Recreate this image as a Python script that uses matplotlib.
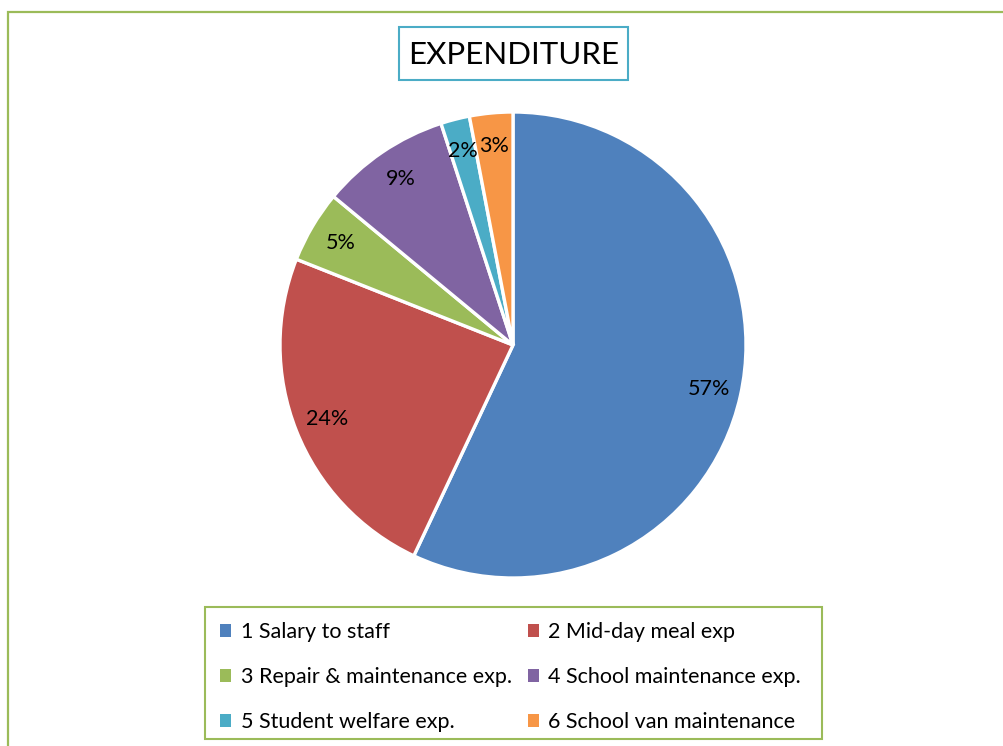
import matplotlib
matplotlib.use("Agg")
import matplotlib.pyplot as plt
from matplotlib.patches import Rectangle, Patch

plt.rcParams['font.family'] = ['Lato', 'DejaVu Sans']

# data
labels = ['1 Salary to staff', '2 Mid-day meal exp', '3 Repair & maintenance exp.',
          '4 School maintenance exp.', '5 Student welfare exp.', '6 School van maintenance']
shares = [57, 24, 5, 9, 2, 3]
colors = ['#4F81BD', '#C0504D', '#9BBB59', '#8064A2', '#4BACC6', '#F79646']

W, H = 1004, 746
fig = plt.figure(figsize=(W / 100, H / 100), dpi=100)

# outer green frame (runs off right and bottom)
fig.patches.append(Rectangle((8 / W, -0.05), 1.1, (H - 12) / H + 0.05,
                             transform=fig.transFigure, fill=False,
                             edgecolor='#9BBB59', linewidth=1.6))

# pie
cx, cy, r = 513, 345, 233
ax = fig.add_axes([(cx - r) / W, (H - cy - r) / H, 2 * r / W, 2 * r / H])
wedges, texts, autotexts = ax.pie(shares, colors=colors, startangle=90, counterclock=False,
                                  autopct='%d%%', pctdistance=0.86, radius=1,
                                  wedgeprops=dict(edgecolor='white', linewidth=2.4),
                                  textprops=dict(fontsize=15.5, color='#000000'))
ax.set_xlim(-1, 1)
ax.set_ylim(-1, 1)
ax.set_aspect('equal')

# title with teal box
fig.patches.append(Rectangle((399 / W, (H - 80) / H), 229 / W, 53 / H,
                             transform=fig.transFigure, fill=False,
                             edgecolor='#4BACC6', linewidth=1.5))
fig.text(513.5 / W, (H - 55) / H, 'EXPENDITURE', ha='center', va='center', fontsize=22.5)

# legend frame
fig.patches.append(Rectangle((205 / W, (H - 739) / H), 617 / W, 132 / H,
                             transform=fig.transFigure, fill=False,
                             edgecolor='#9BBB59', linewidth=1.5))

# legend, filled row by row like the original
order = [0, 2, 4, 1, 3, 5]
handles = [Patch(facecolor=colors[i], edgecolor='none') for i in order]
leg = fig.legend(handles, [labels[i] for i in order], ncol=2, loc='upper left',
                 bbox_to_anchor=(205 / W, (H - 607) / H),
                 fontsize=15.5, frameon=False,
                 handlelength=0.5, handleheight=0.5, handletextpad=0.45,
                 labelspacing=1.16, columnspacing=0.76, borderpad=0.7,
                 borderaxespad=0)

fig.savefig('out.png', dpi=100)
